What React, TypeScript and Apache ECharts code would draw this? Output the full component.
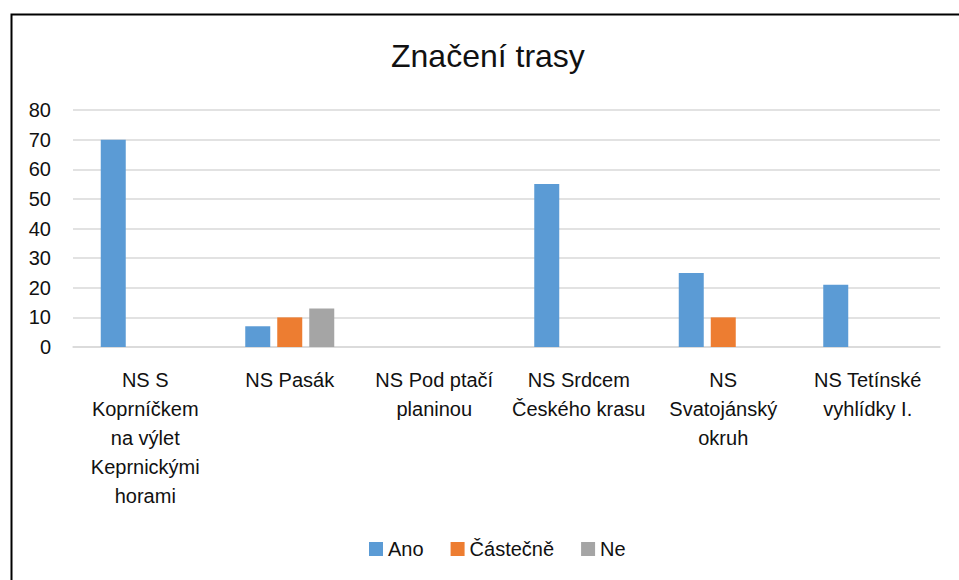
import React, { useEffect, useRef } from "react";
import * as echarts from "echarts";

const title = "Značení trasy";
const categories = [
  "NS S\nKoprníčkem\nna výlet\nKeprnickými\nhorami",
  "NS Pasák",
  "NS Pod ptačí\nplaninou",
  "NS Srdcem\nČeského krasu",
  "NS\nSvatojánský\nokruh",
  "NS Tetínské\nvyhlídky I.",
];
const seriesNames = ["Ano", "Částečně", "Ne"];
const ano = [70, 7, 0, 55, 25, 21];
const castecne = [0, 10, 0, 0, 10, 0];
const ne = [0, 13, 0, 0, 0, 0];
const colors = ["#5B9BD5", "#ED7D31", "#A5A5A5"];
const yMin = 0;
const yMax = 80;
const yInterval = 10;

const FONT = "Liberation Sans";

export default function App() {
  const ref = useRef<HTMLDivElement>(null);
  useEffect(() => {
    if (!ref.current) return;
    const chart = echarts.init(ref.current, undefined, { renderer: "svg" });
    const values = [ano, castecne, ne];
    chart.setOption({
      animation: false,
      backgroundColor: "#ffffff",
      title: {
        text: title,
        left: 386,
        top: 35,
        textStyle: { fontFamily: FONT, fontSize: 32, fontWeight: "normal", color: "#111" },
      },
      legend: {
        bottom: 16,
        left: 364,
        itemWidth: 14,
        itemHeight: 14,
        itemGap: 27,
        icon: "rect",
        textStyle: { fontFamily: FONT, fontSize: 20, color: "#111" },
        data: seriesNames,
      },
      grid: { left: 73, right: 19, top: 110, bottom: 233, containLabel: false },
      xAxis: {
        type: "category",
        data: categories,
        axisLine: { show: true, lineStyle: { color: "#D9D9D9", width: 1.5 } },
        axisTick: { show: false },
        axisLabel: {
          interval: 0,
          margin: 18,
          fontFamily: FONT,
          fontSize: 20,
          lineHeight: 29,
          color: "#111",
          align: "center",
        },
      },
      yAxis: {
        type: "value",
        min: yMin,
        max: yMax,
        interval: yInterval,
        axisLine: { show: false },
        axisTick: { show: false },
        splitLine: { lineStyle: { color: "#D9D9D9", width: 1.5 } },
        axisLabel: { margin: 22, fontFamily: FONT, fontSize: 20, color: "#111" },
      },
      series: seriesNames.map((name, i) => ({
        name,
        type: "bar",
        data: values[i],
        barWidth: 25,
        barGap: "28%",
        itemStyle: { color: colors[i] },
      })),
      graphic: [
        {
          type: "rect",
          left: 9,
          top: 12,
          shape: { x: 0, y: 0, width: 1000, height: 1000 },
          style: { fill: "none", stroke: "#000", lineWidth: 2 },
          silent: true,
          z: 100,
        },
      ],
    });
    return () => chart.dispose();
  }, []);
  return (
    <div
      ref={ref}
      style={{ position: "fixed", left: 0, top: 0, width: 959, height: 580, background: "#fff" }}
    />
  );
}
